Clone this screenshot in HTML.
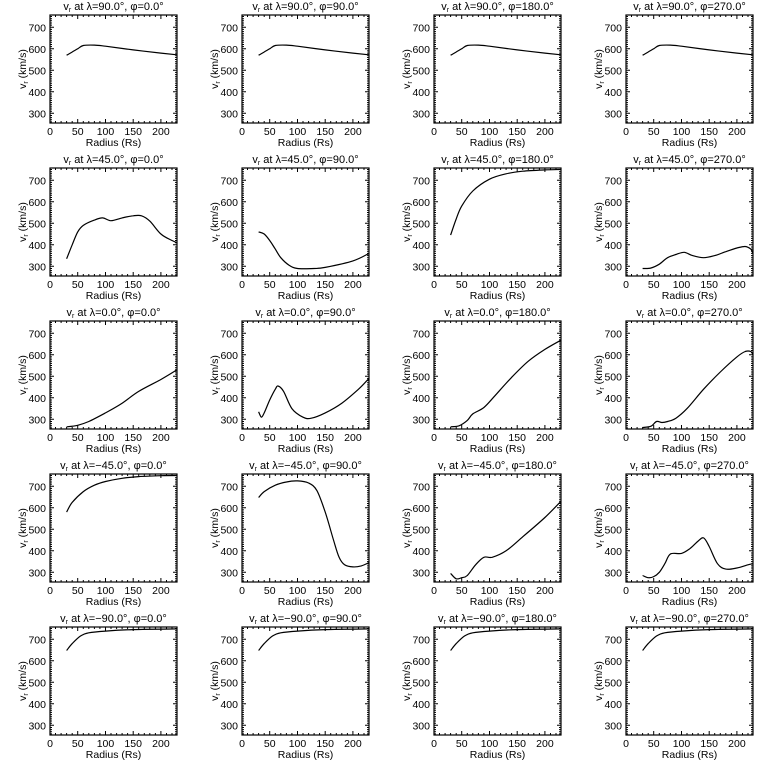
<!DOCTYPE html>
<html><head><meta charset="utf-8"><style>
html,body{margin:0;padding:0;background:#fff;}
svg{display:block;font-family:"Liberation Sans",sans-serif;}
</style></head><body>
<svg id="s" width="768" height="768" xmlns="http://www.w3.org/2000/svg"></svg>
<script>
(function(){
const S=document.getElementById('s');
const W=127,H=108,X0=[50,242,434,626],Y0=[15,168,321,474,627];
const XMIN=0,XMAX=229,YMIN=255,YMAX=757;
const lam=["90.0","45.0","0.0","\u221245.0","\u221290.0"],phi=["0.0","90.0","180.0","270.0"];
const TOPC=[[30,570],[40,585],[50,600],[60,615],[80,617],[100,612],[150,595],[200,580],[230,572]];
const BOTC=[[30,648],[40,680],[55,715],[70,730],[100,738],[150,745],[230,748]];
const D=[
[TOPC,TOPC,TOPC,TOPC],
[[[30,335],[40,400],[50,460],[60,490],[80,515],[95,525],[110,512],[130,525],[150,535],[165,535],[180,510],[200,450],[220,420],[230,410]],
 [[30,460],[40,450],[50,420],[60,380],[70,340],[85,305],[100,290],[130,290],[150,295],[200,325],[230,360]],
 [[30,445],[40,520],[50,580],[70,650],[100,705],[130,730],[160,742],[200,748],[230,750]],
 [[30,290],[45,292],[60,310],[75,340],[90,355],[105,365],[120,350],[140,340],[160,350],[180,368],[200,385],[215,392],[225,380],[230,360]]],
[[[30,265],[50,272],[70,290],[100,330],[130,375],[160,430],[200,485],[230,530]],
 [[30,335],[35,310],[40,330],[50,390],[60,440],[65,455],[75,430],[90,350],[110,310],[125,305],[150,330],[180,375],[210,440],[230,490]],
 [[30,265],[45,270],[60,295],[70,325],[90,355],[110,410],[140,495],[170,570],[200,625],[230,668]],
 [[30,262],[45,268],[55,290],[65,285],[75,290],[90,305],[110,350],[140,440],[170,520],[200,590],[215,615],[225,615],[232,600]]],
[[[30,580],[40,625],[60,675],[80,705],[100,722],[130,737],[160,745],[200,749],[230,750]],
 [[30,648],[40,675],[60,705],[80,720],[100,725],[120,715],[135,680],[150,580],[165,450],[175,370],[185,335],[200,325],[215,330],[230,345]],
 [[30,295],[40,270],[50,275],[60,285],[75,335],[90,370],[105,370],[130,400],[160,465],[200,555],[230,630]],
 [[30,285],[40,275],[50,280],[60,300],[70,340],[80,385],[100,388],[115,410],[130,445],[140,460],[150,420],[165,340],[180,315],[200,320],[220,335],[230,340]]],
[BOTC,BOTC,BOTC,BOTC]];
let h='';
function T(x,y,t,a){h+=`<text x="${x}" y="${y}" font-size="10.5" text-anchor="${a}">${t}</text>`;}
for(let r=0;r<5;r++)for(let c=0;c<4;c++){
 const x0=X0[c],y0=Y0[r];
 const sx=v=>x0+(v-XMIN)/(XMAX-XMIN)*W, sy=v=>y0+H-(v-YMIN)/(YMAX-YMIN)*H;
 h+=`<rect x="${x0}" y="${y0}" width="${W}" height="${H}" fill="none" stroke="#000" stroke-width="1.2"/>`;
 let tk='';
 for(let v=0;v<=XMAX;v+=10){const x=sx(v).toFixed(1),L=(v%50==0)?4:2;
  tk+=`M${x} ${y0+H}v${-L}M${x} ${y0}v${L}`;}
 for(let v=260;v<=YMAX;v+=10){const y=sy(v).toFixed(1),L=(v%100==0)?4:2;
  tk+=`M${x0} ${y}h${L}M${x0+W} ${y}h${-L}`;}
 h+=`<path d="${tk}" stroke="#000" stroke-width="1"/>`;
 for(let v=0;v<=200;v+=50)T(sx(v),y0+H+12,v,'middle');
 for(let v=300;v<=700;v+=100)T(x0-4,sy(v)+4,v,'end');
 T(x0+W/2,y0+H+23,'Radius (Rs)','middle');
 const yl=x0-24,ym=y0+H/2;
 h+=`<text x="${yl}" y="${ym}" font-size="10.5" text-anchor="middle" transform="rotate(-90 ${yl} ${ym})">v<tspan font-size="7" dy="2">r</tspan><tspan dy="-2"> (km/s)</tspan></text>`;
 h+=`<text x="${x0+W/2}" y="${y0-5}" font-size="11" text-anchor="middle">v<tspan font-size="7" dy="2">r</tspan><tspan dy="-2"> at \u03bb=${lam[r]}\u00b0, \u03c6=${phi[c]}\u00b0</tspan></text>`;
 const p=D[r][c].map(q=>[sx(Math.min(q[0],XMAX)),sy(q[1])]);
 let d=`M${p[0][0].toFixed(1)} ${p[0][1].toFixed(1)}`;
 for(let i=0;i<p.length-1;i++){const a=p[Math.max(i-1,0)],b=p[i],e=p[i+1],f=p[Math.min(i+2,p.length-1)];
  d+=`C${(b[0]+(e[0]-a[0])/6).toFixed(1)} ${(b[1]+(e[1]-a[1])/6).toFixed(1)} ${(e[0]-(f[0]-b[0])/6).toFixed(1)} ${(e[1]-(f[1]-b[1])/6).toFixed(1)} ${e[0].toFixed(1)} ${e[1].toFixed(1)}`;}
 h+=`<path d="${d}" fill="none" stroke="#000" stroke-width="1.2"/>`;
}
S.innerHTML=h;
})();
</script>
</body></html>
